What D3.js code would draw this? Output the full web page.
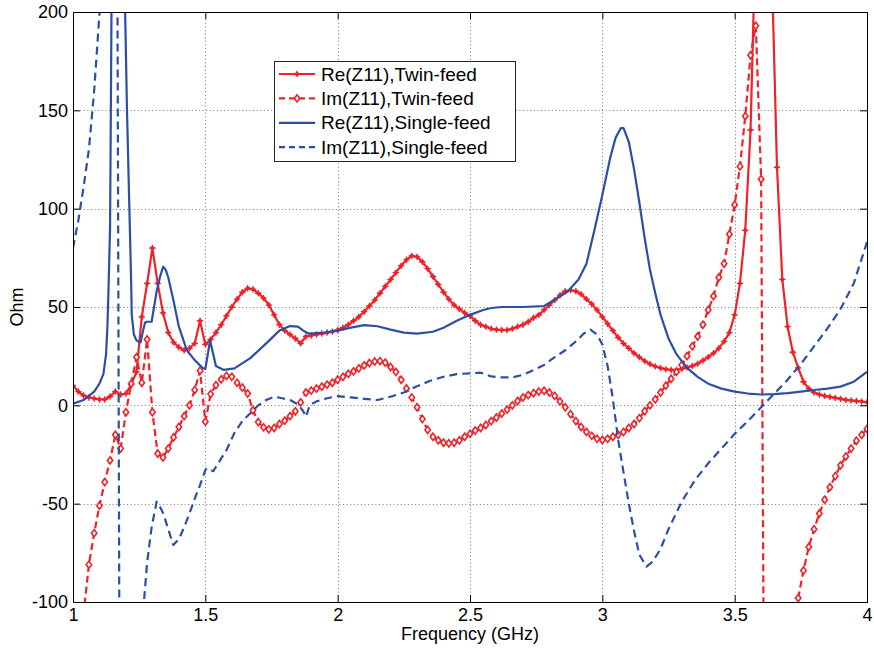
<!DOCTYPE html>
<html>
<head>
<meta charset="utf-8">
<script src="https://cdn.jsdelivr.net/npm/d3@7"></script>
<style>
  body { margin: 0; background: #fff; }
  text { font-family: Arial, "Liberation Sans", sans-serif; fill: #000; }
</style>
</head>
<body>
<svg id="chart" width="874" height="651"></svg>
<script>
// Twin-feed sweep: 1.00 .. 4.00 GHz in 0.02 GHz steps (one marker per sample)
const twinFreq = d3.range(151).map((i) => +(1 + i * 0.02).toFixed(2));

const reTwin = [
  10, 7, 5, 4, 3.5, 3, 3, 4.5, 7, 5.5,
  6, 10.5, 17, 45, 62, 80, 62, 47, 37, 32,
  29.5, 28, 29, 31.5, 43, 31, 33.5, 37, 41, 45.5,
  50, 54, 57.5, 59.5, 59, 57, 54.5, 51, 46, 41,
  38, 36, 34, 31.5, 35, 35.5, 36, 36.5, 37, 37.5,
  38.3, 39.5, 41, 43, 45, 47.6, 50.5, 53.5, 57, 60.5,
  64, 67.5, 71, 74, 76, 75.5, 73, 69.5, 65.5, 61.5,
  57.5, 54, 51, 49, 47, 45.5, 43, 41, 40, 39,
  38.5, 38.3, 38.3, 39, 40, 41, 42.5, 44.5, 46, 48.5,
  51, 53.5, 56, 58, 58.6, 58, 56.5, 54, 51.5, 48.5,
  45, 41.5, 38, 34.5, 31.5, 29, 26.5, 24.5, 22.5, 21,
  19.8, 19, 18.3, 18, 18, 18.5, 19.3, 20, 21.2, 22.8,
  24.5, 26.5, 29, 32.5, 37, 46, 62, 89, 140, 245,
  420, 380, 224, 121, 64, 40, 27, 19, 12, 8.5,
  6.5, 5.5, 4.8, 4.3, 3.8, 3.3, 2.8, 2.5, 2.2, 1.9,
  1.6
];

const imTwin = [
  -185, -140, -106, -81, -65, -51, -39, -28, -15, -22,
  -3.5, 11, 24.5, 11.5, 33.5, -3.5, -24.5, -26.5, -22, -16.3,
  -11, -5.5, 0, 7.8, 17.6, -8.3, 5.7, 10.3, 13.2, 15,
  14.5, 11.5, 9, 6, -2.5, -8.5, -11.2, -12.2, -11.5, -9.5,
  -7.8, -5.5, -3, 1.5, 6.5, 7.5, 8.5, 9.5, 10.5, 11.5,
  13, 14.5, 16, 17.3, 18.8, 20.3, 21.5, 22.3, 22.5, 21.7,
  19.5, 17, 13, 8.6, 4, -1, -7, -12.5, -16, -17.8,
  -19, -19.3, -19, -17.8, -16, -14.5, -12.8, -11.5, -10, -8,
  -6.2, -4.2, -2.2, 0, 2.2, 4, 5.2, 6.2, 7, 7.4,
  6.5, 4.8, 2, -1, -4.5, -8, -11, -13.5, -15.5, -17,
  -17.6, -17, -16, -15, -13.5, -11.5, -9.5, -6.5, -3, 0,
  3, 6.5, 10, 13.5, 17, 20.5, 25, 30, 35, 41,
  48.5, 55.5, 65, 72, 87, 102, 121.5, 147, 178, 193,
  115, -380, -280, -210, -170, -140, -118, -98, -84, -72,
  -63, -55, -48, -41.6, -36, -30.5, -26, -22, -18, -15,
  -12
];

// Single-feed curves (no markers), sampled more finely around the resonances
const reSingleFreq = [
  1.00, 1.04, 1.08, 1.10, 1.115, 1.125, 1.13, 1.134, 1.14, 1.144,
  1.15, 1.17, 1.19, 1.197, 1.204, 1.213, 1.219, 1.222, 1.23, 1.24,
  1.255, 1.265, 1.272, 1.278, 1.297, 1.316, 1.33, 1.341, 1.35, 1.36,
  1.38, 1.40, 1.43, 1.46, 1.49, 1.50, 1.518, 1.54, 1.57, 1.61,
  1.67, 1.73, 1.78, 1.82, 1.85, 1.87, 1.89, 1.95, 2.00, 2.05,
  2.10, 2.15, 2.20, 2.25, 2.30, 2.36, 2.40, 2.45, 2.50, 2.55,
  2.58, 2.62, 2.70, 2.78, 2.83, 2.87, 2.91, 2.94, 2.97, 3.00,
  3.03, 3.05, 3.07, 3.08, 3.10, 3.12, 3.14, 3.16, 3.18, 3.20,
  3.22, 3.25, 3.28, 3.32, 3.36, 3.40, 3.45, 3.50, 3.55, 3.60,
  3.65, 3.70, 3.75, 3.80, 3.85, 3.90, 3.95, 4.00
];
const reSingle = [
  0.8, 2.7, 7, 11, 16, 26, 40, 58, 90, 170,
  300, 600, 300, 200, 150, 100, 67, 46, 36, 33,
  32, 38, 42, 42.5, 42.5, 58, 66, 70.5, 69, 65,
  53, 40, 28, 23, 19, 18.5, 33, 20, 18, 18.8,
  24, 31.5, 38, 40.3, 40, 38, 36.5, 37, 38, 39.5,
  40.8, 40.2, 38.5, 37, 36.5, 37.4, 39.5, 43, 46, 48.5,
  49.5, 50, 50, 50.5, 54.5, 58, 64, 72, 89, 107,
  126, 136, 141, 141, 134, 120, 103, 85, 69, 57,
  46, 34, 26, 19, 14.5, 11, 8.5, 7, 6, 5.5,
  5.7, 6.2, 7, 7.8, 8.5, 9.5, 12, 17
];

const imSingleFreq = [
  1.00, 1.02, 1.04, 1.06, 1.08, 1.10, 1.12, 1.14, 1.16, 1.168,
  1.175, 1.19, 1.23, 1.268, 1.28, 1.297, 1.316, 1.33, 1.341, 1.36,
  1.379, 1.40, 1.42, 1.44, 1.46, 1.48, 1.50, 1.505, 1.53, 1.56,
  1.58, 1.61, 1.64, 1.67, 1.70, 1.73, 1.76, 1.79, 1.82, 1.85,
  1.87, 1.88, 1.895, 1.92, 1.96, 2.00, 2.05, 2.10, 2.15, 2.20,
  2.25, 2.30, 2.35, 2.40, 2.45, 2.50, 2.54, 2.58, 2.62, 2.66,
  2.70, 2.74, 2.78, 2.82, 2.86, 2.90, 2.93, 2.955, 2.98, 3.00,
  3.02, 3.04, 3.06, 3.08, 3.10, 3.12, 3.14, 3.167, 3.19, 3.22,
  3.25, 3.30, 3.35, 3.40, 3.45, 3.50, 3.55, 3.60, 3.65, 3.70,
  3.75, 3.80, 3.85, 3.90, 3.95, 4.00
];
const imSingle = [
  80, 94, 111, 130, 160, 199, 280, 400, 700, 210,
  -110, -400, -180, -100, -80, -62, -49, -52, -55, -63,
  -71, -68, -62, -55, -47.5, -40.5, -33, -32, -33.5, -27,
  -22.7, -14, -8, -4, 0, 2.7, 4.4, 3.6, 2.7, 0.5,
  -3, -5.8, 0.2, 2, 3.6, 4.7, 4, 3.3, 2.7, 4.4,
  6.5, 9.7, 12.5, 14.5, 15.9, 16.3, 16.6, 14.7, 14.2, 14.2,
  15.5, 17.9, 20.5, 24.5, 28, 32.5, 36.5, 38.5, 36, 31,
  20, 3, -17.6, -34, -50, -64, -76, -82, -79.5, -73,
  -63, -49, -38, -29.5, -22, -14.5, -8, -1, 6, 13,
  21, 30, 39, 49, 62, 83
];

const xTicks = [1, 1.5, 2, 2.5, 3, 3.5, 4];
const yTicks = [-100, -50, 0, 50, 100, 150, 200];
const legendLabels = [
  "Re(Z11),Twin-feed",
  "Im(Z11),Twin-feed",
  "Re(Z11),Single-feed",
  "Im(Z11),Single-feed"
];

const red = "#ef2229",
  blue = "#2c4fa6";

const svg = d3.select("#chart");
const plot = { left: 73, top: 12, right: 867, bottom: 602 };

const x = d3.scaleLinear().domain([1, 4]).range([plot.left, plot.right]);
const y = d3.scaleLinear().domain([-100, 200]).range([plot.bottom, plot.top]);

svg
  .append("defs")
  .append("clipPath")
  .attr("id", "clip")
  .append("rect")
  .attr("x", plot.left)
  .attr("y", plot.top)
  .attr("width", plot.right - plot.left)
  .attr("height", plot.bottom - plot.top);

// dotted grid
const grid = svg.append("g").attr("stroke", "#777").attr("stroke-width", 1).attr("stroke-dasharray", "1,2.6");
grid
  .selectAll("line.v")
  .data(xTicks.slice(1, -1))
  .join("line")
  .attr("x1", (d) => Math.round(x(d)) + 0.5)
  .attr("x2", (d) => Math.round(x(d)) + 0.5)
  .attr("y1", plot.top)
  .attr("y2", plot.bottom);
grid
  .selectAll("line.h")
  .data(yTicks.slice(1, -1))
  .join("line")
  .attr("x1", plot.left)
  .attr("x2", plot.right)
  .attr("y1", (d) => Math.round(y(d)) + 0.5)
  .attr("y2", (d) => Math.round(y(d)) + 0.5);

// axes with inward ticks (MATLAB style)
const fmt = (d) => String(d);
const styleAxis = (g) => {
  g.select(".domain").remove();
  g.selectAll(".tick line").attr("stroke", "#000");
  g.selectAll(".tick text").attr("font-size", 18).attr("font-family", "Arial, 'Liberation Sans', sans-serif");
};
svg
  .append("g")
  .attr("transform", `translate(0,${plot.bottom})`)
  .call(d3.axisBottom(x).tickValues(xTicks).tickFormat(fmt).tickSizeInner(-7).tickSizeOuter(0).tickPadding(6))
  .call(styleAxis);
svg
  .append("g")
  .attr("transform", `translate(${plot.left},0)`)
  .call(d3.axisLeft(y).tickValues(yTicks).tickFormat(fmt).tickSizeInner(-7).tickSizeOuter(0).tickPadding(5))
  .call(styleAxis);
svg
  .append("g")
  .attr("transform", `translate(0,${plot.top})`)
  .call(d3.axisTop(x).tickValues(xTicks).tickFormat("").tickSizeInner(-7).tickSizeOuter(0))
  .call(styleAxis);
svg
  .append("g")
  .attr("transform", `translate(${plot.right},0)`)
  .call(d3.axisRight(y).tickValues(yTicks).tickFormat("").tickSizeInner(-7).tickSizeOuter(0))
  .call(styleAxis);

// curves
const line = d3
  .line()
  .x((d) => x(d[0]))
  .y((d) => y(d[1]));
const zip = (xs, ys) => xs.map((f, i) => [f, ys[i]]);

const series = [
  { data: zip(twinFreq, reTwin), color: red, dash: null, marker: "dot" },
  { data: zip(twinFreq, imTwin), color: red, dash: "7,4", marker: "diamond" },
  { data: zip(reSingleFreq, reSingle), color: blue, dash: null, marker: null },
  { data: zip(imSingleFreq, imSingle), color: blue, dash: "8,5", marker: null }
];

const plotArea = svg.append("g").attr("clip-path", "url(#clip)");

function drawMarker(g, kind, color) {
  if (kind === "dot") {
    g.append("path")
      .attr("d", "M-3.2,0H3.2M0,-3.2V3.2")
      .attr("stroke", color)
      .attr("stroke-width", 1.3);
    g.append("circle").attr("r", 2).attr("fill", color);
  } else if (kind === "diamond") {
    g.append("path")
      .attr("d", "M0,-3.6L2.7,0L0,3.6L-2.7,0Z")
      .attr("fill", "#fff")
      .attr("stroke", color)
      .attr("stroke-width", 1.6);
  }
}

series.forEach((s) => {
  plotArea
    .append("path")
    .datum(s.data)
    .attr("d", line)
    .attr("fill", "none")
    .attr("stroke", s.color)
    .attr("stroke-width", 2.2)
    .attr("stroke-dasharray", s.dash)
    .attr("stroke-linejoin", "round");
  if (s.marker) {
    plotArea
      .append("g")
      .selectAll("g")
      .data(s.data.filter((d) => d[1] >= -110 && d[1] <= 210))
      .join("g")
      .attr("transform", (d) => `translate(${x(d[0])},${y(d[1])})`)
      .each(function () {
        drawMarker(d3.select(this), s.marker, s.color);
      });
  }
});

// frame
svg
  .append("rect")
  .attr("x", plot.left + 0.5)
  .attr("y", plot.top + 0.5)
  .attr("width", plot.right - plot.left)
  .attr("height", plot.bottom - plot.top)
  .attr("fill", "none")
  .attr("stroke", "#000");

// axis titles
svg
  .append("text")
  .attr("x", (plot.left + plot.right) / 2)
  .attr("y", 640)
  .attr("text-anchor", "middle")
  .attr("font-size", 18)
  .text("Frequency (GHz)");
svg
  .append("text")
  .attr("transform", `translate(23,${(plot.top + plot.bottom) / 2}) rotate(-90)`)
  .attr("text-anchor", "middle")
  .attr("font-size", 18)
  .text("Ohm");

// legend
const legend = svg.append("g").attr("transform", "translate(274,61)");
legend
  .append("rect")
  .attr("x", 0.5)
  .attr("y", 0.5)
  .attr("width", 241)
  .attr("height", 100)
  .attr("fill", "#fff")
  .attr("stroke", "#222");
legendLabels.forEach((label, i) => {
  const s = series[i];
  const row = legend.append("g").attr("transform", `translate(0,${13 + i * 24.4})`);
  row
    .append("line")
    .attr("x1", 5)
    .attr("x2", 41)
    .attr("stroke", s.color)
    .attr("stroke-width", 2.2)
    .attr("stroke-dasharray", s.dash ? "6,4" : null);
  if (s.marker) drawMarker(row.append("g").attr("transform", "translate(23,0)"), s.marker, s.color);
  row
    .append("text")
    .attr("x", 47)
    .attr("dy", "0.35em")
    .attr("font-size", 19)
    .text(label);
});
</script>
</body>
</html>
